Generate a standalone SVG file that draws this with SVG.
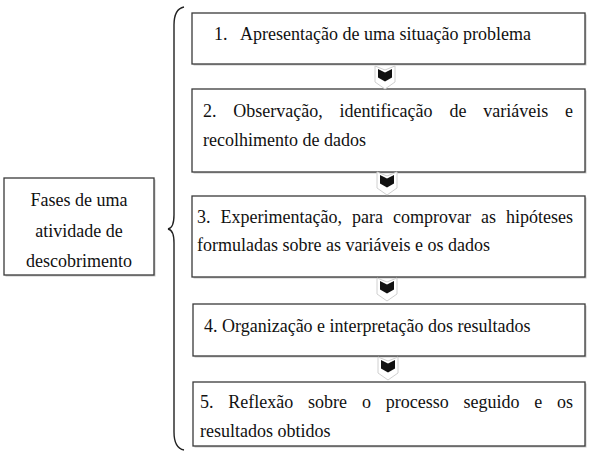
<svg xmlns="http://www.w3.org/2000/svg" width="599" height="452" viewBox="0 0 599 452">
<defs>
<style>
.box{fill:#fff;stroke:#3a3a3a;stroke-width:1.3}
.sh{fill:#c8c8c8}
.t{font-family:'Liberation Serif','DejaVu Serif',serif;font-size:18px;fill:#111}
.brace{fill:none;stroke:#222;stroke-width:1.4}
</style>
<g id="chev">
<polygon points="0,0 10,4 20,0 20,16 10,23 0,16" fill="#fff" stroke="#d0d0d0" stroke-width="1"/>
<polygon points="3,3 10,6.5 17,3 17,11.5 10,15.5 3,11.5" fill="#111"/>
</g>
</defs>
<rect width="599" height="452" fill="#fff"/>

<g id="brace">
<path class="brace" d="M184,7 Q174,9 174,25 L174,215 Q174,228 168,229 Q174,230 174,243 L174,432 Q174,448 184,450"/>
</g>

<g id="main">
<rect class="sh" x="5.5" y="179.5" width="150" height="97"/>
<rect class="box" x="4" y="178" width="150" height="97"/>
<text class="t" text-anchor="middle"><tspan x="79" y="206">Fases de uma</tspan><tspan x="79" y="237">atividade de</tspan><tspan x="79" y="267">descobrimento</tspan></text>
</g>

<g id="phase1">
<rect class="sh" x="193.5" y="14.5" width="393" height="51"/>
<rect class="box" x="192" y="13" width="393" height="51"/>
<text class="t" y="40"><tspan x="214">1.</tspan><tspan x="240">Apresentação de uma situação problema</tspan></text>
</g>

<g id="phase2">
<rect class="sh" x="193.5" y="90.5" width="393" height="83"/>
<rect class="box" x="192" y="89" width="393" height="83"/>
<text class="t" y="117"><tspan x="203">2.</tspan><tspan x="233.3">Observação,</tspan><tspan x="339.6">identificação</tspan><tspan x="449.4">de</tspan><tspan x="483.2">variáveis</tspan><tspan x="565">e</tspan></text>
<text class="t" x="203" y="146">recolhimento de dados</text>
</g>

<g id="phase3">
<rect class="sh" x="193.5" y="197.5" width="393" height="81"/>
<rect class="box" x="192" y="196" width="393" height="81"/>
<text class="t" y="223"><tspan x="197">3.</tspan><tspan x="220.5">Experimentação,</tspan><tspan x="352">para</tspan><tspan x="393">comprovar</tspan><tspan x="481">as</tspan><tspan x="506">hipóteses</tspan></text>
<text class="t" x="197" y="251">formuladas sobre as variáveis e os dados</text>
</g>

<g id="phase4">
<rect class="sh" x="194.5" y="305.5" width="392" height="52"/>
<rect class="box" x="193" y="304" width="392" height="52"/>
<text class="t" x="204" y="332">4. Organização e interpretação dos resultados</text>
</g>

<g id="phase5">
<rect class="sh" x="194.5" y="383.5" width="392" height="64"/>
<rect class="box" x="193" y="382" width="392" height="64"/>
<text class="t" y="408"><tspan x="200">5.</tspan><tspan x="228.3">Reflexão</tspan><tspan x="308.1">sobre</tspan><tspan x="361.9">o</tspan><tspan x="385.7">processo</tspan><tspan x="463.5">seguido</tspan><tspan x="534.3">e</tspan><tspan x="557.1">os</tspan></text>
<text class="t" x="200" y="437">resultados obtidos</text>
</g>

<g id="connectors">
<use href="#chev" x="375" y="66"/>
<use href="#chev" x="377" y="172"/>
<use href="#chev" x="377" y="278"/>
<use href="#chev" x="378" y="357"/>
</g>
</svg>
